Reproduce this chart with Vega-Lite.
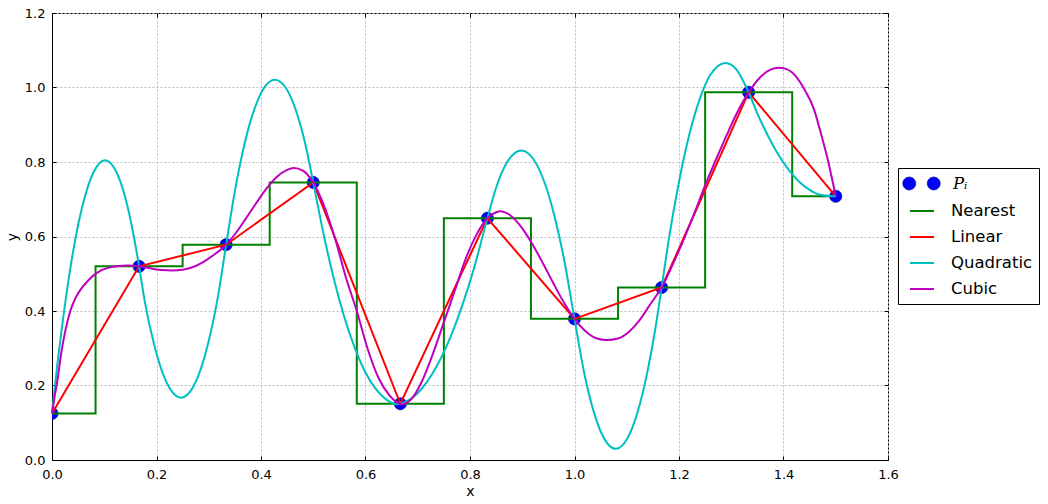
{
  "$schema": "https://vega.github.io/schema/vega-lite/v6.json",
  "width": 836,
  "height": 447,
  "autosize": {"type": "none"},
  "padding": {"left": 52, "top": 13, "right": 160, "bottom": 44},
  "background": "white",
  "config": {
    "view": {"stroke": "black", "strokeWidth": 1},
    "font": "DejaVu Sans",
    "axis": {
      "labelFont": "DejaVu Sans",
      "labelFontSize": 13,
      "labelColor": "black",
      "labelFlush": false,
      "titleFont": "DejaVu Sans",
      "titleFontSize": 14,
      "titleFontWeight": "normal",
      "titleColor": "black",
      "domainColor": "black",
      "tickColor": "black",
      "tickSize": -4,
      "gridColor": "#bdbdbd",
      "gridDash": [2, 2],
      "gridWidth": 1
    }
  },
  "datasets": {
    "pts": [
      {"x": 0, "y": 0.125}, {"x": 0.1667, "y": 0.52}, {"x": 0.3333, "y": 0.578},
      {"x": 0.5, "y": 0.745}, {"x": 0.6667, "y": 0.151}, {"x": 0.8333, "y": 0.649},
      {"x": 1.0, "y": 0.379}, {"x": 1.1667, "y": 0.463}, {"x": 1.3333, "y": 0.987},
      {"x": 1.5, "y": 0.708}
    ],
    "quad": [
      {"x": 0, "y": 0.125}, {"x": 0.01, "y": 0.254}, {"x": 0.02, "y": 0.367},
      {"x": 0.035, "y": 0.514}, {"x": 0.05, "y": 0.631}, {"x": 0.065, "y": 0.717},
      {"x": 0.08, "y": 0.774}, {"x": 0.1011, "y": 0.805}, {"x": 0.12, "y": 0.782},
      {"x": 0.14, "y": 0.706}, {"x": 0.155, "y": 0.612}, {"x": 0.1667, "y": 0.52},
      {"x": 0.1778, "y": 0.424}, {"x": 0.1968, "y": 0.303}, {"x": 0.2159, "y": 0.219},
      {"x": 0.2349, "y": 0.175}, {"x": 0.2468, "y": 0.167}, {"x": 0.2603, "y": 0.177},
      {"x": 0.2794, "y": 0.224}, {"x": 0.2984, "y": 0.311}, {"x": 0.3175, "y": 0.438},
      {"x": 0.3333, "y": 0.578}, {"x": 0.35, "y": 0.722}, {"x": 0.37, "y": 0.858},
      {"x": 0.39, "y": 0.952}, {"x": 0.41, "y": 1.007}, {"x": 0.4265, "y": 1.021},
      {"x": 0.445, "y": 1.004}, {"x": 0.465, "y": 0.946}, {"x": 0.485, "y": 0.847},
      {"x": 0.5, "y": 0.745}, {"x": 0.52, "y": 0.605}, {"x": 0.54, "y": 0.483},
      {"x": 0.56, "y": 0.381}, {"x": 0.58, "y": 0.299}, {"x": 0.6, "y": 0.235},
      {"x": 0.62, "y": 0.19}, {"x": 0.64, "y": 0.162}, {"x": 0.659, "y": 0.15},
      {"x": 0.6867, "y": 0.164}, {"x": 0.7067, "y": 0.19}, {"x": 0.7267, "y": 0.229},
      {"x": 0.7467, "y": 0.28}, {"x": 0.7667, "y": 0.344}, {"x": 0.7867, "y": 0.421},
      {"x": 0.8067, "y": 0.51}, {"x": 0.8333, "y": 0.649}, {"x": 0.85, "y": 0.731},
      {"x": 0.87, "y": 0.797}, {"x": 0.898, "y": 0.831}, {"x": 0.92, "y": 0.81},
      {"x": 0.94, "y": 0.755}, {"x": 0.96, "y": 0.664}, {"x": 0.98, "y": 0.539},
      {"x": 1.0, "y": 0.379}, {"x": 1.02, "y": 0.224}, {"x": 1.04, "y": 0.115},
      {"x": 1.06, "y": 0.05}, {"x": 1.079, "y": 0.03}, {"x": 1.1, "y": 0.055},
      {"x": 1.12, "y": 0.125}, {"x": 1.14, "y": 0.24}, {"x": 1.155, "y": 0.355},
      {"x": 1.1667, "y": 0.463}, {"x": 1.18, "y": 0.588}, {"x": 1.2, "y": 0.747},
      {"x": 1.22, "y": 0.875}, {"x": 1.24, "y": 0.97}, {"x": 1.26, "y": 1.034},
      {"x": 1.289, "y": 1.066}, {"x": 1.31, "y": 1.048}, {"x": 1.3333, "y": 0.987},
      {"x": 1.35, "y": 0.93}, {"x": 1.37, "y": 0.871}, {"x": 1.39, "y": 0.82},
      {"x": 1.41, "y": 0.779}, {"x": 1.43, "y": 0.747}, {"x": 1.45, "y": 0.725},
      {"x": 1.47, "y": 0.712}, {"x": 1.5, "y": 0.708}
    ],
    "cubic": [
      {"x": 0, "y": 0.125}, {"x": 0.005, "y": 0.17}, {"x": 0.01, "y": 0.21},
      {"x": 0.018, "y": 0.29}, {"x": 0.026, "y": 0.35}, {"x": 0.035, "y": 0.4},
      {"x": 0.045, "y": 0.435}, {"x": 0.056, "y": 0.46}, {"x": 0.068, "y": 0.48},
      {"x": 0.079, "y": 0.495}, {"x": 0.09, "y": 0.506}, {"x": 0.101, "y": 0.513},
      {"x": 0.123, "y": 0.52}, {"x": 0.145, "y": 0.522}, {"x": 0.1667, "y": 0.52},
      {"x": 0.19, "y": 0.514}, {"x": 0.21, "y": 0.51}, {"x": 0.23, "y": 0.509},
      {"x": 0.25, "y": 0.511}, {"x": 0.27, "y": 0.518}, {"x": 0.29, "y": 0.532},
      {"x": 0.31, "y": 0.551}, {"x": 0.3333, "y": 0.578}, {"x": 0.35, "y": 0.606},
      {"x": 0.37, "y": 0.646}, {"x": 0.39, "y": 0.688}, {"x": 0.41, "y": 0.728},
      {"x": 0.43, "y": 0.76}, {"x": 0.45, "y": 0.779}, {"x": 0.4625, "y": 0.784},
      {"x": 0.48, "y": 0.777}, {"x": 0.5, "y": 0.745}, {"x": 0.52, "y": 0.685},
      {"x": 0.5417, "y": 0.595}, {"x": 0.5625, "y": 0.49}, {"x": 0.5833, "y": 0.4},
      {"x": 0.6042, "y": 0.298}, {"x": 0.625, "y": 0.22}, {"x": 0.645, "y": 0.175},
      {"x": 0.669, "y": 0.15}, {"x": 0.6875, "y": 0.163}, {"x": 0.7083, "y": 0.212},
      {"x": 0.729, "y": 0.285}, {"x": 0.75, "y": 0.37}, {"x": 0.771, "y": 0.455},
      {"x": 0.7917, "y": 0.54}, {"x": 0.8125, "y": 0.605}, {"x": 0.8333, "y": 0.649},
      {"x": 0.85, "y": 0.665}, {"x": 0.858, "y": 0.668}, {"x": 0.875, "y": 0.659},
      {"x": 0.9, "y": 0.622}, {"x": 0.9167, "y": 0.586}, {"x": 0.94, "y": 0.527},
      {"x": 0.9583, "y": 0.478}, {"x": 0.98, "y": 0.422}, {"x": 1.0, "y": 0.379},
      {"x": 1.02, "y": 0.347}, {"x": 1.0417, "y": 0.327}, {"x": 1.062, "y": 0.322},
      {"x": 1.0833, "y": 0.326}, {"x": 1.105, "y": 0.345}, {"x": 1.125, "y": 0.376},
      {"x": 1.145, "y": 0.418}, {"x": 1.1667, "y": 0.463}, {"x": 1.19, "y": 0.531},
      {"x": 1.21, "y": 0.595}, {"x": 1.23, "y": 0.665}, {"x": 1.25, "y": 0.737},
      {"x": 1.27, "y": 0.804}, {"x": 1.29, "y": 0.868}, {"x": 1.31, "y": 0.929},
      {"x": 1.3333, "y": 0.987}, {"x": 1.355, "y": 1.027}, {"x": 1.375, "y": 1.048},
      {"x": 1.39, "y": 1.053}, {"x": 1.405, "y": 1.05}, {"x": 1.4167, "y": 1.04},
      {"x": 1.44, "y": 0.995}, {"x": 1.4583, "y": 0.942}, {"x": 1.47, "y": 0.885},
      {"x": 1.4833, "y": 0.815}, {"x": 1.5, "y": 0.708}
    ]
  },
  "layer": [
    {
      "data": {"name": "pts"},
      "mark": {"type": "circle", "size": 150, "opacity": 1, "stroke": "#000080", "strokeWidth": 0.6, "clip": true},
      "encoding": {
        "x": {
          "field": "x", "type": "quantitative",
          "scale": {"domain": [0, 1.6], "nice": false, "zero": false},
          "axis": {
            "title": "x", "values": [0, 0.2, 0.4, 0.6, 0.8, 1.0, 1.2, 1.4, 1.6],
            "format": ".1f", "grid": true, "labelPadding": 12, "titlePadding": 3
          }
        },
        "y": {
          "field": "y", "type": "quantitative",
          "scale": {"domain": [0, 1.2], "nice": false, "zero": false},
          "axis": {
            "title": "y", "values": [0, 0.2, 0.4, 0.6, 0.8, 1.0, 1.2],
            "format": ".1f", "grid": true, "labelPadding": 11, "titlePadding": 5
          }
        },
        "fill": {
          "datum": "Pi",
          "scale": {"domain": ["Pi"], "range": ["#0000ff"]},
          "legend": {
            "orient": "none",
            "legendX": 857,
            "legendY": 158,
            "title": null,
            "padding": 0,
            "symbolOffset": 0,
            "symbolSize": 576,
            "symbolType": "M-1.56,0a0.54,0.54 0 1,0 1.08,0a0.54,0.54 0 1,0 -1.08,0M0.48,0a0.54,0.54 0 1,0 1.08,0a0.54,0.54 0 1,0 -1.08,0",
            "symbolStrokeColor": "#000080",
            "symbolStrokeWidth": 0.6,
            "labelOffset": 19,
            "labelFont": "DejaVu Serif",
            "labelFontStyle": "italic",
            "labelFontSize": 16.5,
            "labelColor": "black",
            "labelExpr": "'Pᵢ'"
          }
        }
      }
    },
    {
      "data": {"name": "pts"},
      "mark": {"type": "line", "interpolate": "step", "strokeWidth": 2},
      "encoding": {
        "x": {
          "field": "x", "type": "quantitative",
          "axis": {"orient": "top", "labels": false, "title": null, "grid": false, "domain": false,
                   "values": [0, 0.2, 0.4, 0.6, 0.8, 1.0, 1.2, 1.4, 1.6]}
        },
        "y": {
          "field": "y", "type": "quantitative",
          "axis": {"orient": "right", "labels": false, "title": null, "grid": false, "domain": false,
                   "values": [0, 0.2, 0.4, 0.6, 0.8, 1.0, 1.2]}
        },
        "stroke": {
          "datum": "Nearest",
          "scale": {
            "domain": ["Nearest", "Linear", "Quadratic", "Cubic"],
            "range": ["#008000", "#ff0000", "#00bfbf", "#bf00bf"]
          },
          "legend": {
            "orient": "none",
            "legendX": 846,
            "legendY": 155,
            "title": " ",
            "titleFontSize": 18,
            "titlePadding": 6,
            "padding": 6,
            "symbolOffset": 5,
            "symbolSize": 576,
            "symbolType": "stroke",
            "symbolStrokeWidth": 2,
            "labelOffset": 16,
            "labelFont": "DejaVu Sans",
            "labelFontSize": 16.5,
            "labelColor": "black",
            "rowPadding": 4,
            "strokeColor": "black",
            "cornerRadius": 0
          }
        }
      }
    },
    {
      "data": {"name": "pts"},
      "mark": {"type": "line", "strokeWidth": 2},
      "encoding": {
        "x": {"field": "x", "type": "quantitative", "axis": null},
        "y": {"field": "y", "type": "quantitative", "axis": null},
        "stroke": {"datum": "Linear"}
      }
    },
    {
      "data": {"name": "quad"},
      "mark": {"type": "line", "interpolate": "monotone", "strokeWidth": 2},
      "encoding": {
        "x": {"field": "x", "type": "quantitative", "axis": null},
        "y": {"field": "y", "type": "quantitative", "axis": null},
        "stroke": {"datum": "Quadratic"}
      }
    },
    {
      "data": {"name": "cubic"},
      "mark": {"type": "line", "interpolate": "monotone", "strokeWidth": 2},
      "encoding": {
        "x": {"field": "x", "type": "quantitative", "axis": null},
        "y": {"field": "y", "type": "quantitative", "axis": null},
        "stroke": {"datum": "Cubic"}
      }
    }
  ],
  "resolve": {"axis": {"x": "independent", "y": "independent"}}
}
